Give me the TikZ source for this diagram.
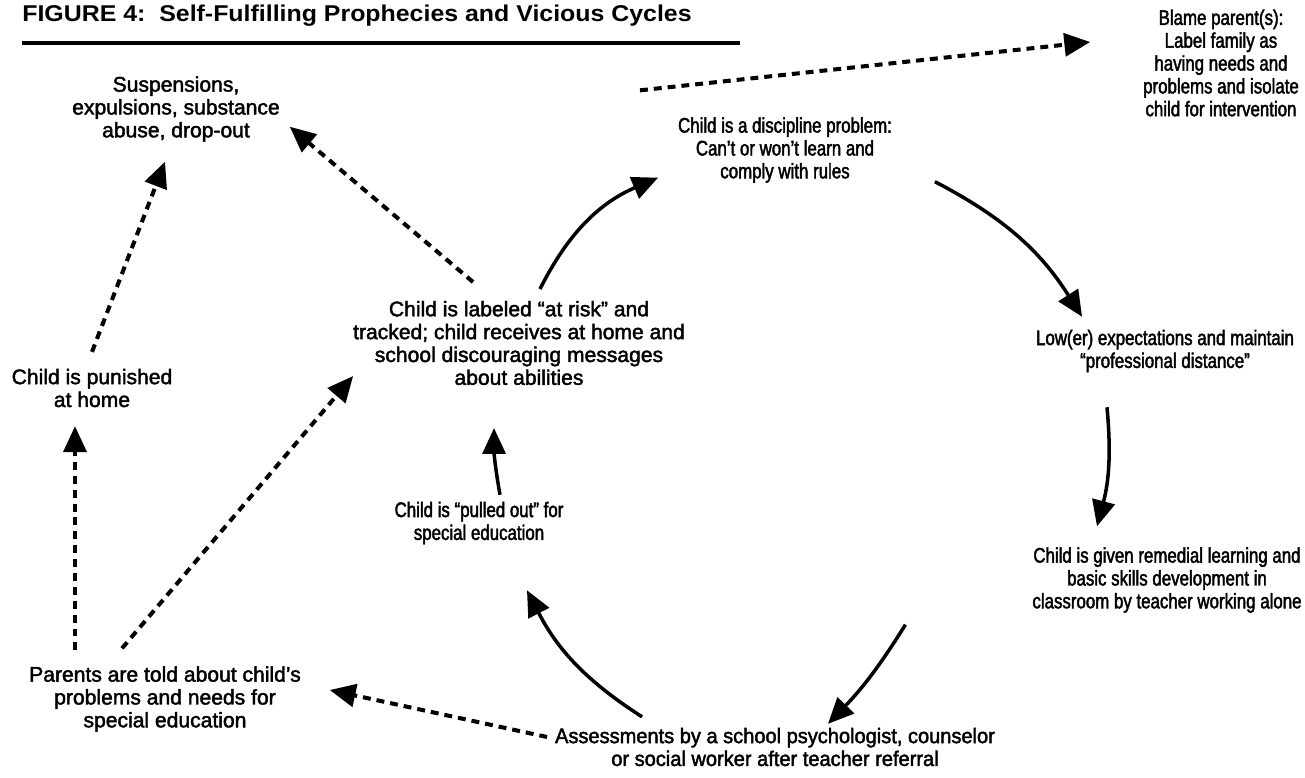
\documentclass[tikz,border=0pt]{standalone}
\usepackage{fontspec}
\setmainfont{Liberation Sans}[FakeBold=2]
\newfontfamily\narrowfont[FakeStretch=0.8,FakeBold=2]{Liberation Sans}
\newfontfamily\midfont[FakeStretch=0.95,FakeBold=2]{Liberation Sans}
\newfontfamily\titlefont[FakeStretch=1.09]{Liberation Sans}
\usetikzlibrary{arrows.meta}
\newlength{\du}
\setlength{\du}{0.2mm}

\begin{document}
\begin{tikzpicture}[x=\du,y=-\du,
  txt/.style={align=center,inner sep=0pt,outer sep=0pt,font=\fontsize{12}{13}\selectfont},
  narrowtxt/.style={txt,font=\narrowfont\fontsize{12}{13}\selectfont},
  midtxt/.style={txt,font=\midfont\fontsize{12}{13}\selectfont},
  solidarrow/.style={line width=2pt,-{Triangle[length=14.7pt,width=13pt]}},
  dashedarrow/.style={line width=2.3pt,dash pattern=on 4.5pt off 3.4pt,-{Triangle[length=14.7pt,width=13pt]}}]
\useasboundingbox (0,0) rectangle (1305,777);
% title
\node[anchor=base west,inner sep=0pt] (title) at (22,21) {\titlefont\bfseries\fontsize{13}{15}\selectfont FIGURE 4:\ \ Self-Fulfilling Prophecies and Vicious Cycles};
\draw[line width=2.8pt] (22,43)--(740,43);
% setfont left to latex
\node[narrowtxt] (blame) at (1221,63) {Blame parent(s):\\Label family as\\having needs and\\problems and isolate\\child for intervention};
\node[txt] (susp) at (176,109) {Suspensions,\\expulsions, substance\\abuse, drop-out};
\node[narrowtxt] (disc) at (785,150) {Child is a discipline problem:\\Can’t or won’t learn and\\comply with rules};
\node[txt] (label) at (519,343) {Child is labeled “at risk” and\\tracked; child receives at home and\\school discouraging messages\\about abilities};
\node[narrowtxt] (low) at (1165,351) {Low(er) expectations and maintain\\“professional distance”};
\node[txt] (punished) at (92,388) {Child is punished\\at home};
\node[narrowtxt] (pulled) at (479,523) {Child is “pulled out” for\\special education};
\node[narrowtxt] (remedial) at (1167,580) {Child is given remedial learning and\\basic skills development in\\classroom by teacher working alone};
\node[txt] (parents) at (165,699) {Parents are told about child’s\\problems and needs for\\special education};
\node[midtxt] (assess) at (775,747) {Assessments by a school psychologist, counselor\\or social worker after teacher referral};
% the cycle
\draw[solidarrow] ([shift={(21,-12)}]label.north) to[bend left=20] ([shift={(-20,-5)}]disc.south west);
\draw[solidarrow] ([shift={(43,-1)}]disc.south east) to[bend left=15] ([shift={(46,-13)}]low.north west);
\draw[solidarrow] ([shift={(-58,35)}]low.south) to[bend left=10] ([shift={(-70,-21)}]remedial.north);
\draw[solidarrow] ([shift={(-127,12)}]remedial.south west) to[bend left=6] ([shift={(53,-4)}]assess.north);
\draw[solidarrow] ([shift={(87,-11)}]assess.north west) to[bend left=15] ([shift={(48,46)}]pulled.south);
\draw[solidarrow] ([shift={(21,-7)}]pulled.north) to[bend left=5] ([shift={(-25,43)}]label.south);
% was here!!!
\draw[dashedarrow] ([shift={(-145,-27)}]disc.north)--([shift={(-53,-21)}]blame.west);
\draw[dashedarrow] ([shift={(-46,-19)}]label.north)--([shift={(10,-15)}]susp.south east);
\draw[dashedarrow] ([shift={(0,-17)}]punished.north)--([shift={(-11,20)}]susp.south);
\draw[dashedarrow] ([shift={(-90,-16)}]parents.north)--([shift={(-17,19)}]punished.south);
\draw[dashedarrow] ([shift={(-43,-18)}]parents.north)--([shift={(0,-9)}]label.south west);
\draw[dashedarrow] ([shift={(-8,-10)}]assess.west)--([shift={(29,-9)}]parents.east);
\end{tikzpicture}
\end{document}
